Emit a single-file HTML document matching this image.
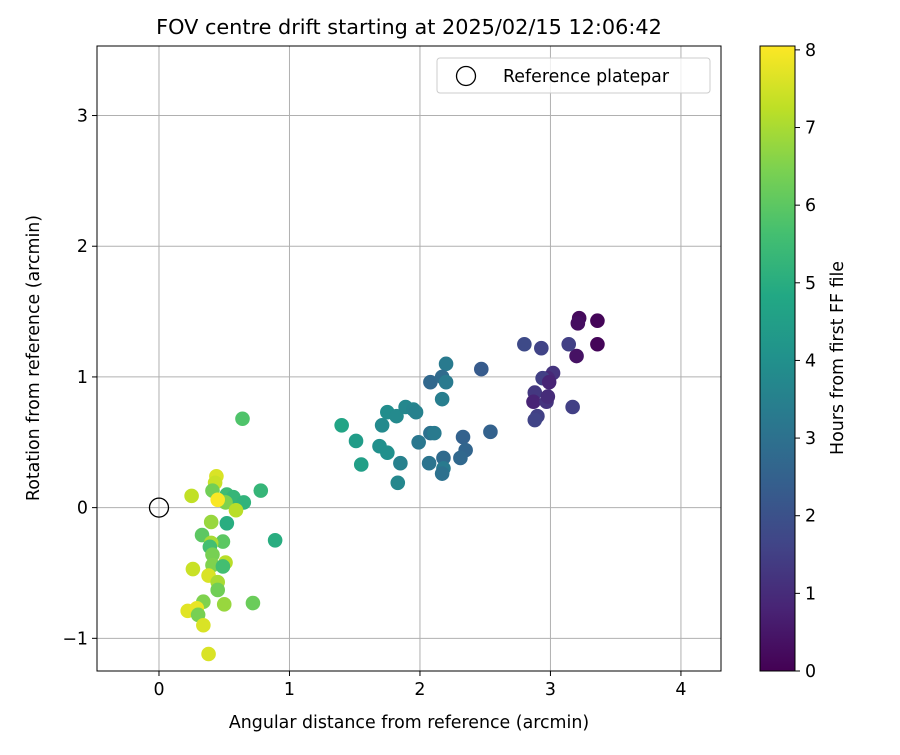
<!DOCTYPE html>
<html><head><meta charset="utf-8"><style>
body{margin:0;background:#fff;}
svg text{font-family:"DejaVu Sans","Liberation Sans",sans-serif;fill:#000;}
</style></head><body>
<svg id="chart" width="900" height="750" viewBox="0 0 900 750" xmlns="http://www.w3.org/2000/svg">
<defs>
<linearGradient id="vir" x1="0" y1="1" x2="0" y2="0">
<stop offset="0" stop-color="#440154"/><stop offset="0.1" stop-color="#482475"/><stop offset="0.2" stop-color="#414487"/><stop offset="0.3" stop-color="#355f8d"/><stop offset="0.4" stop-color="#2a788e"/><stop offset="0.5" stop-color="#21918c"/><stop offset="0.6" stop-color="#22a884"/><stop offset="0.7" stop-color="#44bf70"/><stop offset="0.8" stop-color="#7ad151"/><stop offset="0.9" stop-color="#bddf26"/><stop offset="1" stop-color="#fde725"/>
</linearGradient>
<clipPath id="plotclip"><rect x="97" y="46" width="624" height="625"/></clipPath>
</defs>
<text x="409" y="34" font-size="20.8" text-anchor="middle">FOV centre drift starting at 2025/02/15 12:06:42</text>
<g id="grid"></g>
<g id="points" clip-path="url(#plotclip)"></g>
<circle id="refpt" r="9.5" fill="none" stroke="#000" stroke-width="1.3"/>
<rect x="97" y="46" width="624" height="625" fill="none" stroke="#000" stroke-width="1"/>
<g id="axes"></g>
<text x="409" y="728" font-size="17.4" text-anchor="middle">Angular distance from reference (arcmin)</text>
<text transform="translate(39,358) rotate(-90)" font-size="17.4" text-anchor="middle">Rotation from reference (arcmin)</text>
<g>
<rect x="437" y="58" width="273" height="35" rx="3" fill="#fff" fill-opacity="0.8" stroke="#ccc"/>
<circle cx="466" cy="76" r="9.5" fill="none" stroke="#000" stroke-width="1.3"/>
<text x="503" y="82" font-size="17.4">Reference platepar</text>
</g>
<rect x="760" y="46" width="35" height="625" fill="url(#vir)" stroke="#000" stroke-width="1"/>
<g id="cbaxis"></g>
<text transform="translate(843,358) rotate(-90)" font-size="17.4" text-anchor="middle">Hours from first FF file</text>
</svg>
<script>
const xs=[3.22,3.36,3.21,3.36,3.20,3.14,2.93,2.80,3.02,2.98,2.94,2.99,2.88,2.87,2.97,2.98,3.17,2.90,2.88,2.47,2.54,
2.08,2.11,1.99,2.33,2.35,2.31,2.18,2.07,2.18,2.17,1.85,1.83,1.55,1.51,1.40,1.69,1.75,1.71,1.75,1.82,1.89,1.95,1.97,2.17,2.20,2.08,2.17,2.20,
0.64,0.44,0.43,0.25,0.41,0.52,0.57,0.65,0.51,0.59,0.78,0.52,0.40,0.33,0.49,0.40,0.39,0.89,0.41,0.51,0.41,0.49,0.26,0.38,0.45,0.45,0.34,0.50,0.72,0.22,0.29,0.30,0.34,0.38,0.45];
const ys=[1.45,1.43,1.41,1.25,1.16,1.25,1.22,1.25,1.03,0.99,0.99,0.96,0.88,0.81,0.81,0.85,0.77,0.70,0.67,1.06,0.58,
0.57,0.57,0.50,0.54,0.44,0.38,0.38,0.34,0.30,0.26,0.34,0.19,0.33,0.51,0.63,0.47,0.42,0.63,0.73,0.70,0.77,0.75,0.73,0.83,1.10,0.96,1.00,0.96,
0.68,0.24,0.19,0.09,0.13,0.10,0.08,0.04,0.04,-0.02,0.13,-0.12,-0.11,-0.21,-0.26,-0.27,-0.30,-0.25,-0.36,-0.42,-0.44,-0.45,-0.47,-0.52,-0.57,-0.63,-0.72,-0.74,-0.73,-0.79,-0.77,-0.82,-0.90,-1.12,0.06];
const hours=[0.2,0.1,0.3,0.1,0.4,1.5,1.6,1.8,1.2,0.9,1.5,0.8,1.3,0.8,1.2,1.0,1.5,1.5,1.6,2.3,2.5,
3.0,3.3,3.2,2.5,2.6,2.7,2.8,3.1,3.3,3.0,3.5,3.7,4.5,4.4,4.7,4.0,4.0,3.8,3.9,3.8,3.7,3.6,3.5,3.4,3.3,2.7,2.8,3.3,
5.8,7.6,7.4,7.3,6.3,5.5,5.3,5.2,6.5,7.2,5.3,5.0,6.8,6.0,6.0,7.0,5.6,5.0,6.4,7.2,6.5,5.6,7.4,7.6,7.0,6.3,6.5,6.8,6.2,7.7,7.8,6.4,7.6,7.6,8.0];
const xTicks=[0,1,2,3,4], yTicks=[-1,0,1,2,3], cTicks=[0,1,2,3,4,5,6,7,8];
const xLabels=["0","1","2","3","4"], yLabels=["\u22121","0","1","2","3"];
const X0=97,X1=721,Y0=46,Y1=671,xmin=-0.475,xmax=4.307,ymin=-1.25,ymax=3.532,cmax=8.05;
const sx=v=>X0+(v-xmin)/(xmax-xmin)*(X1-X0);
const sy=v=>Y1-(v-ymin)/(ymax-ymin)*(Y1-Y0);
const sc=v=>671-v/cmax*625;
const stops=["#440154","#482475","#414487","#355f8d","#2a788e","#21918c","#22a884","#44bf70","#7ad151","#bddf26","#fde725"];
function hex(h){return [1,3,5].map(i=>parseInt(h.substr(i,2),16));}
function vir(t){t=Math.max(0,Math.min(1,t));const f=t*10,i=Math.min(9,Math.floor(f)),r=f-i;const a=hex(stops[i]),b=hex(stops[i+1]);return "rgb("+a.map((v,k)=>Math.round(v+(b[k]-v)*r)).join(",")+")";}
const NS="http://www.w3.org/2000/svg";
function mk(tag,attrs,parent,txt){const e=document.createElementNS(NS,tag);for(const k in attrs)e.setAttribute(k,attrs[k]);if(txt!==undefined)e.textContent=txt;parent.appendChild(e);return e;}
const grid=document.getElementById('grid'),axes=document.getElementById('axes'),pts=document.getElementById('points'),cb=document.getElementById('cbaxis');
xTicks.forEach((t,i)=>{const x=sx(t);
const g=mk('line',{x1:x,x2:x,y1:Y0,y2:Y1,stroke:'#b0b0b0','stroke-width':1},grid);


const tk=mk('line',{x1:x,x2:x,y1:Y1,y2:Y1+5,stroke:'#000'},axes);


const l=mk('text',{x:x,y:Y1+24,'font-size':17.4,'text-anchor':'middle'},axes,xLabels[i]);

});
yTicks.forEach((t,i)=>{const y=sy(t);
const g=mk('line',{x1:X0,x2:X1,y1:y,y2:y,stroke:'#b0b0b0','stroke-width':1},grid);


const tk=mk('line',{x1:X0-5,x2:X0,y1:y,y2:y,stroke:'#000'},axes);


const l=mk('text',{x:X0-9,y:y+6,'font-size':17.4,'text-anchor':'end'},axes,yLabels[i]);

});
xs.forEach((v,i)=>{const c=mk('circle',{cx:sx(v),cy:sy(ys[i]),r:7.3,fill:vir(hours[i]/cmax)},pts);

});
const rp=document.getElementById('refpt');rp.setAttribute('cx',sx(0));rp.setAttribute('cy',sy(0));
cTicks.forEach(t=>{const y=sc(t);
const tk=mk('line',{x1:795,x2:800,y1:y,y2:y,stroke:'#000'},cb);


const l=mk('text',{x:805,y:y+6,'font-size':17.4},cb,String(t));

});
</script>
</body></html>
